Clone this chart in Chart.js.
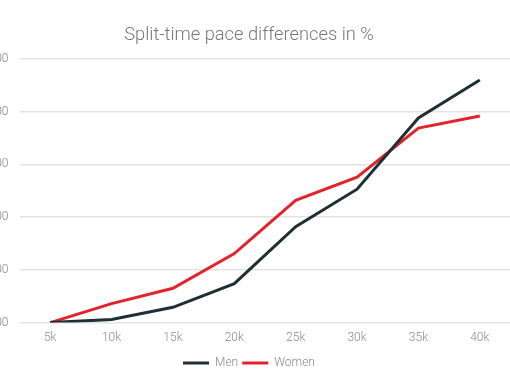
<!DOCTYPE html>
<html>
<head>
<meta charset="utf-8">
<script src="https://cdn.jsdelivr.net/npm/chart.js@4"></script>
<style>
  html, body { margin: 0; padding: 0; background: #ffffff; overflow: hidden; width: 510px; height: 382px; }
  #wrap { position: absolute; left: -30px; top: 0; width: 558px; height: 382px; }
</style>
</head>
<body>
<div id="wrap"><canvas id="c"></canvas></div>
<script>
const categories = ["5k", "10k", "15k", "20k", "25k", "30k", "35k", "40k"];
const menValues = [0, 0.06, 0.29, 0.74, 1.82, 2.53, 3.88, 4.60];
const womenValues = [0, 0.36, 0.65, 1.31, 2.32, 2.76, 3.69, 3.92];
const yTicks = [0, 1, 2, 3, 4, 5];

const ctx = document.getElementById('c');
new Chart(ctx, {
  type: 'line',
  data: {
    labels: categories,
    datasets: [
      { label: 'Men', data: menValues, borderColor: '#1e3035', backgroundColor: '#1e3035', borderWidth: 3, pointRadius: 0, tension: 0 },
      { label: 'Women', data: womenValues, borderColor: '#e3232c', backgroundColor: '#e3232c', borderWidth: 3, pointRadius: 0, tension: 0 }
    ]
  },
  options: {
    responsive: true,
    maintainAspectRatio: false,
    animation: false,
    layout: { padding: { left: 0, right: 0, top: 0, bottom: 3 } },
    plugins: {
      title: {
        display: true,
        text: 'Split-time pace differences in %',
        color: '#777777',
        font: { family: 'Roboto', size: 18.3, weight: '300' },
        padding: { top: 24, bottom: 13 }
      },
      legend: {
        position: 'bottom',
        labels: {
          boxWidth: 26, boxHeight: 3,
          color: '#888888',
          font: { family: 'Roboto', size: 12, weight: '300' },
          padding: 4,
          generateLabels: (chart) => Chart.defaults.plugins.legend.labels.generateLabels(chart).map(l => Object.assign(l, { lineWidth: 0 }))
        }
      },
      tooltip: { enabled: false }
    },
    scales: {
      x: {
        offset: true,
        grid: { display: false, drawTicks: false },
        border: { display: false },
        ticks: { color: '#888888', font: { family: 'Roboto', size: 12, weight: '300' }, padding: 8 }
      },
      y: {
        min: 0, max: 5,
        afterFit: (s) => { s.width = 49.5; },
        afterBuildTicks: (s) => { s.ticks = yTicks.map(v => ({ value: v })); },
        grid: { color: '#e3e3e3', lineWidth: 1.5, drawTicks: false },
        border: { display: false },
        ticks: { color: '#888888', font: { family: 'Roboto', size: 12, weight: '300' }, padding: 11,
                 callback: (v) => Number(v).toFixed(2) }
      },
      spacer: {
        position: 'right',
        min: 0, max: 5,
        afterFit: (s) => { s.width = 17.5; },
        grid: { display: false, drawTicks: false },
        border: { display: false },
        ticks: { display: false }
      }
    }
  }
});
</script>
</body>
</html>
